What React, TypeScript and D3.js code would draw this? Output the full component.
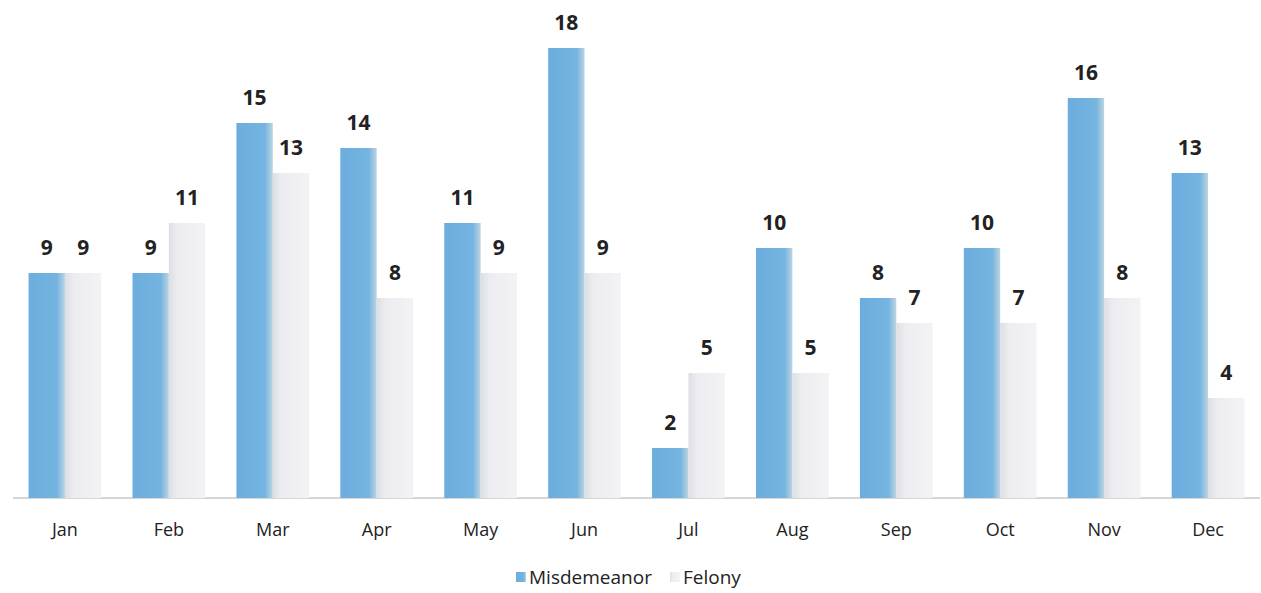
import React, { useEffect, useRef } from "react";
import * as d3 from "d3";

const months = ["Jan", "Feb", "Mar", "Apr", "May", "Jun", "Jul", "Aug", "Sep", "Oct", "Nov", "Dec"];
const misdemeanor = [9, 9, 15, 14, 11, 18, 2, 10, 8, 10, 16, 13];
const felony = [9, 11, 13, 8, 9, 9, 5, 5, 7, 7, 8, 4];
const seriesNames = ["Misdemeanor", "Felony"];

const width = 1261;
const height = 593;
const font = "'Open Sans', Lato, sans-serif";

export default function App() {
  const svgRef = useRef<SVGSVGElement>(null);

  useEffect(() => {
    if (!svgRef.current) return;
    const svg = d3.select(svgRef.current);
    svg.selectAll("*").remove();

    const margin = { top: 48, right: 1, bottom: 95, left: 13 };
    const innerHeight = height - margin.top - margin.bottom;

    const defs = svg.append("defs");
    const gBlue = defs.append("linearGradient").attr("id", "gBlue").attr("x1", 0).attr("x2", 1);
    gBlue.append("stop").attr("offset", "0%").attr("stop-color", "#6badde");
    gBlue.append("stop").attr("offset", "78%").attr("stop-color", "#75b4e0");
    gBlue.append("stop").attr("offset", "100%").attr("stop-color", "#bcd4e2");
    const gGray = defs.append("linearGradient").attr("id", "gGray").attr("x1", 0).attr("x2", 1);
    gGray.append("stop").attr("offset", "0%").attr("stop-color", "#dddee3");
    gGray.append("stop").attr("offset", "25%").attr("stop-color", "#ededf1");
    gGray.append("stop").attr("offset", "100%").attr("stop-color", "#f3f3f6");

    const x0 = d3.scaleBand().domain(months).range([margin.left, width - margin.right]).paddingInner(0.3).paddingOuter(0.15);
    const x1 = d3.scaleBand().domain(seriesNames).range([0, x0.bandwidth()]);
    const y = d3.scaleLinear().domain([0, 18]).range([margin.top + innerHeight, margin.top]);

    const rows = months.map((m, i) => ({ month: m, values: [misdemeanor[i], felony[i]] }));

    // axis line
    svg.append("line")
      .attr("x1", margin.left).attr("x2", width - margin.right)
      .attr("y1", y(0)).attr("y2", y(0))
      .attr("stroke", "#c8c8c8").attr("stroke-width", 1.5);

    const groups = svg.append("g").selectAll("g").data(rows).join("g")
      .attr("transform", d => `translate(${x0(d.month)},0)`);

    groups.selectAll("rect")
      .data(d => d.values.map((v, k) => ({ key: seriesNames[k], v })))
      .join("rect")
      .attr("x", d => x1(d.key) || 0)
      .attr("y", d => y(d.v))
      .attr("width", x1.bandwidth())
      .attr("height", d => y(0) - y(d.v))
      .attr("fill", d => (d.key === "Misdemeanor" ? "url(#gBlue)" : "url(#gGray)"));

    groups.selectAll("text")
      .data(d => d.values.map((v, k) => ({ key: seriesNames[k], v })))
      .join("text")
      .attr("x", d => (x1(d.key) || 0) + x1.bandwidth() / 2)
      .attr("y", d => y(d.v) - 18)
      .attr("text-anchor", "middle")
      .attr("font-family", font)
      .attr("font-weight", "bold")
      .attr("font-size", 21)
      .attr("fill", "#222")
      .text(d => d.v);

    // category labels
    svg.append("g").selectAll("text").data(months).join("text")
      .attr("x", d => (x0(d) || 0) + x0.bandwidth() / 2)
      .attr("y", y(0) + 38)
      .attr("text-anchor", "middle")
      .attr("font-family", font)
      .attr("font-size", 18)
      .attr("fill", "#222")
      .text(d => d);

    // legend
    const legend = svg.append("g").attr("transform", `translate(516, 578)`);
    const items = [
      { name: "Misdemeanor", fill: "url(#gBlue)", dx: 0 },
      { name: "Felony", fill: "url(#gGray)", dx: 154 },
    ];
    const li = legend.selectAll("g").data(items).join("g")
      .attr("transform", d => `translate(${d.dx},0)`);
    li.append("rect").attr("x", 0).attr("y", -6).attr("width", 10).attr("height", 10).attr("fill", d => d.fill);
    li.append("text")
      .attr("x", 13).attr("y", 6)
      .attr("font-family", font)
      .attr("font-size", 19)
      .attr("fill", "#222")
      .text(d => d.name);
  }, []);

  return (
    <svg
      ref={svgRef}
      width={width}
      height={height}
      style={{ position: "absolute", left: 0, top: 0, background: "#fff" }}
    />
  );
}
